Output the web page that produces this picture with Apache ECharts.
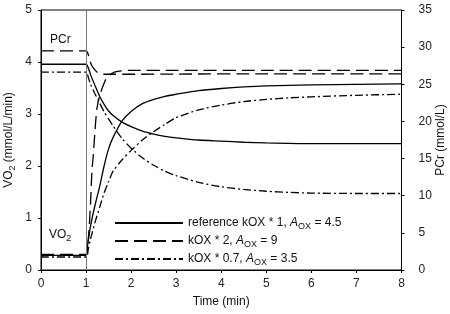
<!DOCTYPE html>
<html>
<head>
<meta charset="utf-8">
<script src="https://cdn.jsdelivr.net/npm/echarts@6/dist/echarts.min.js"></script>
<style>
html,body{margin:0;padding:0;background:#fff;}
#c{width:450px;height:314px;}
</style>
</head>
<body>
<div id="c"></div>
<script>
// ---- data ----
const xTicks = [0,1,2,3,4,5,6,7,8];

// reference kOX*1
const tSolidVO2 = [0,1,1.03,1.1,1.2,1.3,1.4,1.5,1.6,1.8,2,2.25,2.5,2.75,3,3.5,4,4.5,5,6,7,8];
const solidVO2  = [0.28,0.28,0.45,0.85,1.25,1.6,2.0,2.33,2.55,2.87,3.05,3.2,3.28,3.34,3.38,3.45,3.49,3.52,3.54,3.56,3.57,3.58];
const tSolidPCr = [0,1,1.05,1.1,1.2,1.3,1.4,1.5,1.6,1.8,2,2.25,2.5,2.75,3,3.5,4,4.5,5,6,7,8];
const solidPCr  = [27.7,27.7,27.2,26.3,24.8,23.4,22.3,21.4,20.8,19.9,19.3,18.7,18.3,18.0,17.8,17.5,17.35,17.2,17.1,17.0,17.0,17.0];

// kOX*2
const tDashVO2 = [0,1,1.03,1.06,1.1,1.13,1.16,1.2,1.24,1.3,1.38,1.45,1.57,1.7,2,3,5,8];
const dashVO2  = [0.30,0.30,0.45,0.7,1.3,1.9,2.2,2.7,3.1,3.35,3.55,3.68,3.78,3.82,3.84,3.84,3.84,3.84];
const tDashPCr = [0,1,1.03,1.06,1.09,1.12,1.16,1.2,1.25,1.3,1.4,2,3,5,8];
const dashPCr  = [29.5,29.5,29.3,28.8,28.1,27.6,27.2,26.9,26.6,26.45,26.35,26.35,26.38,26.4,26.4];

// kOX*0.7
const tDotVO2 = [0,1,1.05,1.1,1.2,1.3,1.4,1.5,1.6,1.8,2,2.25,2.5,2.75,3,3.5,4,4.5,5,5.5,6,7,8];
const dotVO2  = [0.25,0.25,0.4,0.6,0.92,1.2,1.48,1.7,1.9,2.12,2.3,2.5,2.66,2.8,2.93,3.08,3.17,3.24,3.28,3.31,3.33,3.36,3.38];
const tDotPCr = [0,1,1.05,1.1,1.2,1.3,1.4,1.5,1.6,1.8,2,2.25,2.5,2.75,3,3.5,4,4.5,5,5.5,6,7,8];
const dotPCr  = [26.65,26.65,25.9,25.0,23.7,22.5,21.3,20.3,19.4,17.7,16.4,15.1,14.1,13.3,12.7,11.8,11.2,10.85,10.6,10.45,10.35,10.3,10.3];

const seriesNames = ['ref','k2','k07'];
// ------------------------------------------------

const FONT = "'Liberation Sans', Arial, sans-serif";
const zip = (t, v) => t.map((x, i) => [x, v[i]]);

const legendText = {
  ref: '{n|reference kOX * 1, }{i|A}{s|OX}{n| = 4.5}',
  k2:  '{n|kOX * 2, }{i|A}{s|OX}{n| = 9}',
  k07: '{n|kOX * 0.7, }{i|A}{s|OX}{n| = 3.5}'
};
const richSub = {
  n: {fontSize: 12, color: '#111', fontFamily: FONT, lineHeight: 16},
  i: {fontSize: 12, color: '#111', fontFamily: FONT, fontStyle: 'italic', lineHeight: 16},
  s: {fontSize: 9, color: '#111', fontFamily: FONT, lineHeight: 8, verticalAlign: 'bottom'}
};

const styles = {
  ref: {type: 'solid'},
  k2: {type: [13, 6]},
  k07: {type: [8, 3, 2, 3]}
};

function mk(name, data, yIdx) {
  return {
    name: name,
    type: 'line',
    yAxisIndex: yIdx,
    data: data,
    symbol: 'none',
    smooth: 0.25,
    animation: false,
    lineStyle: Object.assign({color: '#000', width: 1.3}, styles[name]),
    itemStyle: {color: '#000'}
  };
}

const series = [
  mk('ref', zip(tSolidVO2, solidVO2), 0),
  mk('k2', zip(tDashVO2, dashVO2), 0),
  mk('k07', zip(tDotVO2, dotVO2), 0),
  mk('ref', zip(tSolidPCr, solidPCr), 1),
  mk('k2', zip(tDashPCr, dashPCr), 1),
  mk('k07', zip(tDotPCr, dotPCr), 1)
];
series[0].markLine = {
  silent: true, symbol: 'none', animation: false,
  label: {show: false},
  lineStyle: {color: '#777', width: 1, type: 'solid'},
  data: [{xAxis: 1}]
};

const axisCommon = {
  axisLine: {show: true, lineStyle: {color: '#000', width: 1}},
  axisTick: {show: true, inside: false, length: 3, lineStyle: {color: '#000'}},
  splitLine: {show: false},
  axisLabel: {color: '#222', fontSize: 12, fontFamily: FONT}
};

const chart = echarts.init(document.getElementById('c'), null, {renderer: 'canvas'});
chart.setOption({
  animation: false,
  backgroundColor: '#fff',
  grid: {left: 41, right: 48.5, top: 10, bottom: 44, show: true, borderColor: '#000', borderWidth: 1,
         containLabel: false, outerBoundsMode: 'none'},
  xAxis: Object.assign({}, axisCommon, {
    type: 'value', min: xTicks[0], max: xTicks[xTicks.length - 1], interval: 1,
    name: 'Time (min)', nameLocation: 'middle', nameGap: 26, nameMoveOverlap: false,
    nameTextStyle: {fontSize: 12, color: '#111', fontFamily: FONT},
    axisLabel: Object.assign({}, axisCommon.axisLabel, {margin: 8})
  }),
  yAxis: [
    Object.assign({}, axisCommon, {
      type: 'value', min: 0, max: 5, interval: 1, position: 'left',
      name: '{n|VO}{s|2}{n| (mmol/L/min)}', nameLocation: 'middle', nameRotate: 90, nameGap: 24,
      nameMoveOverlap: false,
      nameTextStyle: {fontSize: 12, color: '#111', fontFamily: FONT, rich: richSub},
      axisLabel: Object.assign({}, axisCommon.axisLabel, {margin: 9})
    }),
    Object.assign({}, axisCommon, {
      type: 'value', min: 0, max: 35, interval: 5, position: 'right',
      name: 'PCr (mmol/L)', nameLocation: 'middle', nameRotate: 90, nameGap: 33,
      nameMoveOverlap: false,
      nameTextStyle: {fontSize: 12, color: '#111', fontFamily: FONT},
      axisLabel: Object.assign({}, axisCommon.axisLabel, {margin: 17})
    })
  ],
  legend: {
    data: seriesNames,
    orient: 'vertical',
    left: 109, top: 212,
    itemWidth: 68, itemHeight: 14, itemGap: 4,
    selectedMode: false,
    itemStyle: {opacity: 0},
    formatter: n => legendText[n],
    textStyle: {fontSize: 12, color: '#111', fontFamily: FONT, rich: richSub}
  },
  graphic: [
    {type: 'text', left: 50, top: 34, silent: true,
     style: {text: 'PCr', fill: '#111', font: '12px ' + FONT}},
    {type: 'text', left: 49, top: 229, silent: true,
     style: {text: '{n|VO}{s|2}', rich: richSub, fill: '#111', font: '12px ' + FONT}}
  ],
  series: series
});
</script>
</body>
</html>
